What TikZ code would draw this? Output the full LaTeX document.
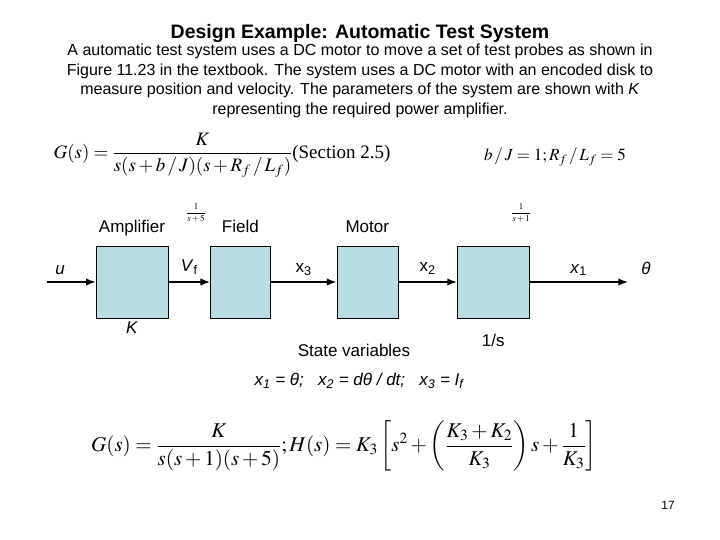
\documentclass[tikz,border=0pt]{standalone}
\usepackage{amsmath}
\usepackage{mathptmx}
\usepackage[no-math]{fontspec}
\setmainfont{Liberation Sans}
\newfontfamily\eqfont{Liberation Serif}
\usepackage{xcolor}
\usepackage{tikz}
\usetikzlibrary{arrows.meta, positioning}
\definecolor{blockfill}{RGB}{185,221,226}

\begin{document}
\begin{tikzpicture}[x=1pt, y=-1pt, node distance=6pt, every node/.style={font=\fontsize{17}{20}\selectfont}]
            \useasboundingbox (0,0) rectangle (720,540);
            % title and text
            \node[font=\bfseries\fontsize{19.5}{22}\selectfont] (title) at (360,34) {Design Example: Automatic Test System};
            \node[align=center, font=\fontsize{16}{19.5}\selectfont] (intro) at (360,81) {A automatic test system uses a DC motor to move a set of test probes as shown in\\
            Figure 11.23 in the textbook. The system uses a DC motor with an encoded disk to\\
            measure position and velocity. The parameters of the system are shown with \textit{K}\\
            representing the required power amplifier.};
            \node[font=\eqfont\fontsize{19}{22}\selectfont] (geq) at (222,155) {$G(s)=\dfrac{K}{s(s+b\,/\,J)(s+R_f\,/\,L_f)}$(Section 2.5)};
            \node[font=\fontsize{17}{20}\selectfont] (par) at (555,157) {$b\,/\,J=1;R_f\,/\,L_f=5$};
            % blocks
            \node[draw, fill=blockfill, minimum width=72pt, minimum height=72pt] (amp) at (132,282) {};
            \node[draw, fill=blockfill, minimum width=60pt, minimum height=72pt, right=42pt of amp] (field) {};
            \node[draw, fill=blockfill, minimum width=61pt, minimum height=72pt, right=66pt of field] (motor) {};
            \node[draw, fill=blockfill, minimum width=72pt, minimum height=72pt, right=59pt of motor] (integ) {};
            \coordinate (uin) at (47,282);
            \coordinate (yout) at (628,282);
            \node[above=of amp, text height=12pt, text depth=4pt] {Amplifier};
            \node[above=of field, text height=12pt, text depth=4pt] {Field};
            \node[above=of motor, text height=12pt, text depth=4pt] {Motor};
            \node[below=0pt of amp] {\textit{K}};
            \node[below=12pt of integ] {1/s};
            \node (sv) at (354,350) {State variables};
            \node[font=\fontsize{9}{10}\selectfont] (ffield) at (196,213) {$\dfrac{1}{s+5}$};
            \node[font=\fontsize{9}{10}\selectfont] (fmotor) at (521,213) {$\dfrac{1}{s+1}$};
            \node (theta) at (646,268) {\textit{θ}};
            % signals
            \draw[-{Latex}, line width=1.5pt] (uin) -- node[pos=0.27, above=3pt] {\textit{u}} (amp);
            \draw[-{Latex}, line width=1.5pt] (amp) -- node[above=3pt] {\textit{V}\textsubscript{f}} (field);
            \draw[-{Latex}, line width=1.5pt] (field) -- node[above=2pt] {x\textsubscript{3}} (motor);
            \draw[-{Latex}, line width=1.5pt] (motor) -- node[above=3pt] {x\textsubscript{2}} (integ);
            \draw[-{Latex}, line width=1.5pt] (integ) -- node[above=2pt] {\textit{x}\textsubscript{1}} (yout);
            % equations
            \node[font=\fontsize{17}{20}\selectfont] (states) at (359,381) {\textit{x\textsubscript{1} = θ;\ \ \ x\textsubscript{2} = dθ / dt;\ \ \ x\textsubscript{3} = I\textsubscript{f}}};
            \node[font=\eqfont\fontsize{21}{25}\selectfont] (heq) at (344,446) {$G(s)=\dfrac{K}{s(s+1)(s+5)};H(s)=K_3\left[s^2+\left(\dfrac{K_3+K_2}{K_3}\right)s+\dfrac{1}{K_3}\right]$};
            \node[font=\fontsize{12}{14}\selectfont] (page) at (668,505) {17};
        \end{tikzpicture}
\end{document}
